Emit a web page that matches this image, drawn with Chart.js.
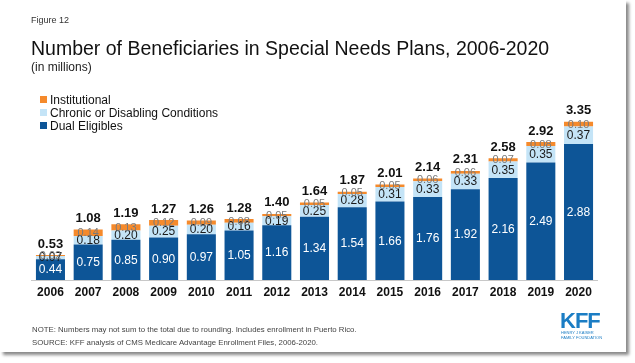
<!DOCTYPE html>
<html>
<head>
<meta charset="utf-8">
<script src="https://cdn.jsdelivr.net/npm/chart.js@4.4.1/dist/chart.umd.min.js"></script>
<style>
    html, body { margin: 0; padding: 0; background: #fff; }
    #page { position: relative; width: 635px; height: 363px; overflow: hidden; font-family: "Liberation Sans", Arial, sans-serif; }
    #slide { position: absolute; left: 0; top: 0; width: 626px; height: 352px; background: #fff; box-shadow: 3px 3px 3px #8a8a8a; }
    #chart { position: absolute; left: 0; top: 0; }
    .txt { position: absolute; white-space: nowrap; }
    #fig { left: 31px; top: 15px; font-size: 9px; color: #333; }
    #title { left: 31px; top: 37px; font-size: 19.5px; color: #111; }
    #sub { left: 31px; top: 60px; font-size: 12px; color: #222; }
    #legend { position: absolute; left: 40px; top: 94px; font-size: 12px; color: #111; line-height: 13px; }
    #legend .sw { display: inline-block; width: 7px; height: 7px; margin-right: 3px; vertical-align: 1px; }
    #note { left: 32px; top: 323px; font-size: 7.8px; color: #444; line-height: 13px; }
    #kff { left: 560px; top: 309px; font-size: 22px; font-weight: bold; color: #1b7dc4; letter-spacing: -1px; line-height: 24px; }
    #kffsub { left: 561px; top: 331px; font-size: 4px; color: #1b7dc4; line-height: 4.5px; }
</style>
</head>
<body>
<div id="page">
    <div id="slide"></div>
    <canvas id="chart" width="635" height="363"></canvas>
    <div class="txt" id="fig">Figure 12</div>
    <div class="txt" id="title">Number of Beneficiaries in Special Needs Plans, 2006-2020</div>
    <div class="txt" id="sub">(in millions)</div>
    <div id="legend"></div>
    <div class="txt" id="note">NOTE: Numbers may not sum to the total due to rounding. Includes enrollment in Puerto Rico.<br>SOURCE: KFF analysis of CMS Medicare Advantage Enrollment Files, 2006-2020.</div>
    <div class="txt" id="kff">KFF</div>
    <div class="txt" id="kffsub">HENRY J KAISER<br>FAMILY FOUNDATION</div>
</div>
<script>
// 年份與各類別人數（百萬）
const years = ['2006', '2007', '2008', '2009', '2010', '2011', '2012', '2013', '2014', '2015', '2016', '2017', '2018', '2019', '2020'];
const dualEligibles = [0.44, 0.75, 0.85, 0.90, 0.97, 1.05, 1.16, 1.34, 1.54, 1.66, 1.76, 1.92, 2.16, 2.49, 2.88];
const chronicConditions = [0.07, 0.18, 0.20, 0.25, 0.20, 0.16, 0.19, 0.25, 0.28, 0.31, 0.33, 0.33, 0.35, 0.35, 0.37];
const institutional = [0.02, 0.14, 0.13, 0.12, 0.09, 0.08, 0.05, 0.05, 0.05, 0.05, 0.06, 0.06, 0.07, 0.08, 0.10];
const totals = [0.53, 1.08, 1.19, 1.27, 1.26, 1.28, 1.40, 1.64, 1.87, 2.01, 2.14, 2.31, 2.58, 2.92, 3.35];

const datasets = [
    { label: 'Dual Eligibles', data: dualEligibles, backgroundColor: '#0d5597', labelColor: '#ffffff' },
    { label: 'Chronic or Disabling Conditions', data: chronicConditions, backgroundColor: '#c4e4f7', labelColor: '#1a1a1a' },
    { label: 'Institutional', data: institutional, backgroundColor: '#f58a2c', labelColor: '#7a7a7a' }
];

// 圖例（由上而下：Institutional 在最上）
const legendEl = document.getElementById('legend');
datasets.slice().reverse().forEach(function (ds) {
    const row = document.createElement('div');
    row.innerHTML = '<span class="sw" style="background:' + ds.backgroundColor + '"></span>' + ds.label;
    legendEl.appendChild(row);
});

// 繪製各段數值與總數
const barLabels = {
    id: 'barLabels',
    afterDatasetsDraw: function (chart) {
        const ctx = chart.ctx;
        ctx.save();
        ctx.textAlign = 'center';
        ctx.textBaseline = 'middle';
        chart.data.datasets.forEach(function (ds, i) {
            const meta = chart.getDatasetMeta(i);
            ctx.fillStyle = ds.labelColor;
            ctx.font = (i === 2 ? '11px' : '12px') + ' "Liberation Sans", Arial, sans-serif';
            meta.data.forEach(function (bar, j) {
                const mid = (bar.y + bar.base) / 2;
                ctx.fillText(ds.data[j].toFixed(2), bar.x, mid + 0.5);
            });
        });
        const topBars = chart.getDatasetMeta(2).data;
        ctx.fillStyle = '#111';
        ctx.font = 'bold 13px "Liberation Sans", Arial, sans-serif';
        topBars.forEach(function (bar, j) {
            ctx.fillText(totals[j].toFixed(2), bar.x, bar.y - 11);
        });
        ctx.restore();
    }
};

const ctx = document.getElementById('chart').getContext('2d');
new Chart(ctx, {
    type: 'bar',
    data: {
        labels: years,
        datasets: datasets.map(function (ds) {
            return {
                label: ds.label,
                data: ds.data,
                backgroundColor: ds.backgroundColor,
                labelColor: ds.labelColor,
                borderWidth: 0,
                barPercentage: 0.77,
                categoryPercentage: 1.0
            };
        })
    },
    options: {
        responsive: false,
        animation: false,
        layout: {
            padding: { left: 31.6, right: 37.6, top: 110, bottom: 66.6 }
        },
        plugins: {
            legend: { display: false },
            tooltip: { enabled: false }
        },
        scales: {
            x: {
                stacked: true,
                grid: { display: false },
                border: { display: true, color: '#c8c8c8', width: 1 },
                ticks: {
                    color: '#111',
                    padding: -3,
                    font: { family: '"Liberation Sans", Arial, sans-serif', size: 12, weight: 'bold' }
                }
            },
            y: {
                stacked: true,
                display: false,
                min: 0,
                max: 3.6
            }
        }
    },
    plugins: [barLabels]
});
</script>
</body>
</html>
